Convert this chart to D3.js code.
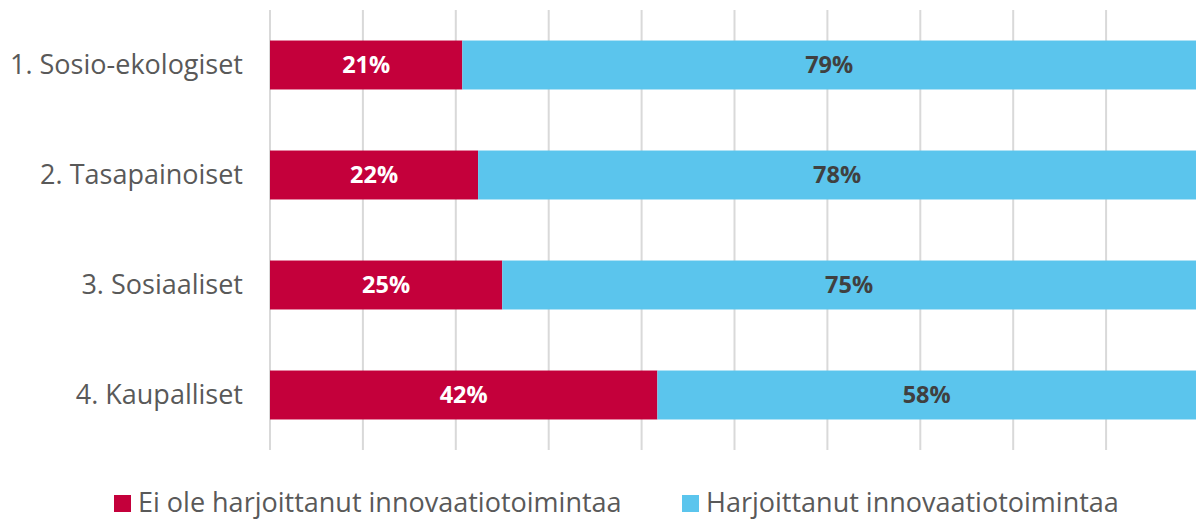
<!DOCTYPE html>
<html>
<head>
<meta charset="utf-8">
<script src="https://cdn.jsdelivr.net/npm/d3@7"></script>
<style>
  body { margin: 0; background: #fff; }
  text { font-family: "Open Sans", sans-serif; }
</style>
</head>
<body>
<div id="chart"></div>
<script>
const categories = ["1. Sosio-ekologiset", "2. Tasapainoiset", "3. Sosiaaliset", "4. Kaupalliset"];
const seriesNames = ["Ei ole harjoittanut innovaatiotoimintaa", "Harjoittanut innovaatiotoimintaa"];
const notInnovating = [20.7, 22.4, 25.0, 41.7];
const innovating = [79.3, 77.6, 75.0, 58.3];
const colors = ["#c4003b", "#5bc5ed"];

const width = 1196, height = 520;

const svg = d3.select("#chart")
    .append("svg")
    .attr("width", width)
    .attr("height", height);

const x = d3.scaleLinear()
    .domain([0, 100])
    .range([270, 1199]);

const y = d3.scaleBand()
    .domain(categories)
    .range([10, 450])
    .paddingInner(0.555)
    .paddingOuter(0.2775);

// gridlines
svg.append("g")
    .selectAll("line")
    .data(d3.range(0, 101, 10))
    .join("line")
    .attr("x1", d => x(d))
    .attr("x2", d => x(d))
    .attr("y1", 10)
    .attr("y2", 450)
    .attr("stroke", "#d9d9d9")
    .attr("stroke-width", 2);

const rows = categories.map((c, i) => ({cat: c, a: notInnovating[i], b: innovating[i]}));
const stacked = d3.stack().keys(["a", "b"])(rows);

const layers = svg.append("g")
    .selectAll("g")
    .data(stacked)
    .join("g")
    .attr("fill", (d, i) => colors[i]);

layers.selectAll("rect")
    .data(d => d)
    .join("rect")
    .attr("x", d => x(d[0]))
    .attr("width", d => x(d[1]) - x(d[0]))
    .attr("y", d => y(d.data.cat))
    .attr("height", y.bandwidth());

// value labels (centred on the visible part of the bar)
layers.each(function(layer, i) {
    d3.select(this).selectAll("text")
        .data(layer)
        .join("text")
        .attr("x", d => (x(d[0]) + Math.min(x(d[1]), width)) / 2)
        .attr("y", d => y(d.data.cat) + y.bandwidth() / 2)
        .attr("dy", "0.36em")
        .attr("text-anchor", "middle")
        .attr("font-size", 23.5)
        .attr("font-weight", "bold")
        .attr("fill", i === 0 ? "#ffffff" : "#404040")
        .text(d => Math.round(d[1] - d[0]) + "%");
});

// category labels
svg.append("g")
    .selectAll("text")
    .data(categories)
    .join("text")
    .attr("x", 243)
    .attr("y", d => y(d) + y.bandwidth() / 2)
    .attr("dy", "0.33em")
    .attr("text-anchor", "end")
    .attr("font-size", 27)
    .attr("fill", "#595959")
    .text(d => d);

// legend
const legendX = [114, 682];
const legend = svg.append("g")
    .selectAll("g")
    .data(seriesNames)
    .join("g")
    .attr("transform", (d, i) => `translate(${legendX[i]}, 495)`);

legend.append("rect")
    .attr("width", 17)
    .attr("height", 17)
    .attr("fill", (d, i) => colors[i]);

legend.append("text")
    .attr("x", 24)
    .attr("y", 17)
    .attr("font-size", 27)
    .attr("fill", "#595959")
    .text(d => d);
</script>
</body>
</html>
